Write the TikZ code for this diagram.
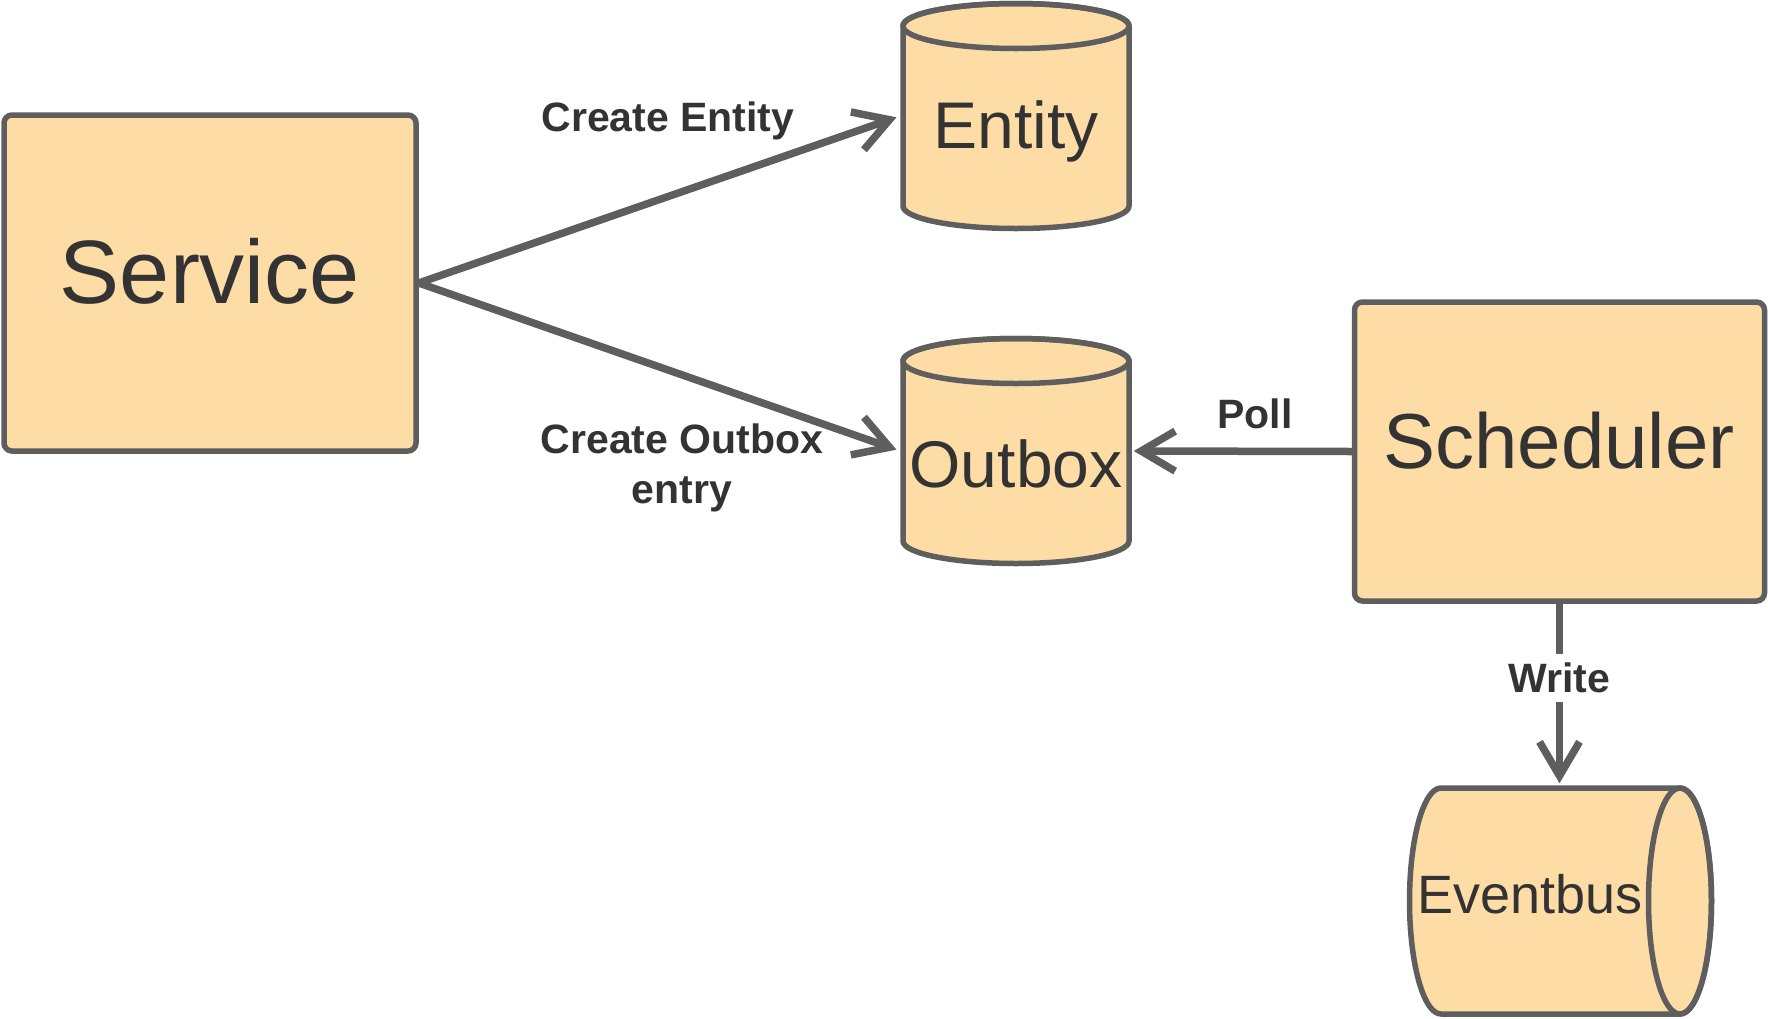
\documentclass[tikz,border=0pt]{standalone}
\usepackage{fontspec}
\setmainfont{Liberation Sans}
\usetikzlibrary{arrows.meta}
\definecolor{boxfill}{HTML}{FDDCA6}
\definecolor{edgecol}{HTML}{5E5E5E}
\definecolor{txtcol}{HTML}{333333}
\begin{document}
\begin{tikzpicture}[x=0.5pt,y=-0.5pt,
  line width=2.75pt,
  boxnode/.style={draw=edgecol, fill=boxfill, rounded corners=4pt, inner sep=0pt, line width=2.75pt},
  bodynode/.style={inner sep=0pt},
  cyl/.style={draw=edgecol, fill=boxfill, line width=2.75pt, line join=round},
  bigtext/.style={text=txtcol, inner sep=0pt},
  lbl/.style={text=txtcol, font=\fontsize{20.5}{25.3}\selectfont\bfseries, inner sep=0pt, align=center},
  conn/.style={draw=edgecol, line width=3.75pt, -{Straight Barb[length=17pt,width=20pt]}}
]
\useasboundingbox (0,0) rectangle (1768,1018);

% Service
\node[boxnode, minimum width=206pt, minimum height=168pt] (service) at (210,283) {};
\node[bigtext, font=\fontsize{45}{54}\selectfont] (servicetxt) at (210,271) {Service};

% Scheduler
\node[boxnode, minimum width=205pt, minimum height=149.5pt] (scheduler) at (1559.5,451.5) {};
\node[bigtext, font=\fontsize{39}{47}\selectfont] (schedtxt) at (1559,441) {Scheduler};

% Entity cylinder
\filldraw[cyl] (903,26) -- (903,206) arc[start angle=180,end angle=360,x radius=56.5pt,y radius=11.25pt] -- (1129,26) arc[start angle=0,end angle=180,x radius=56.5pt,y radius=11.25pt] -- cycle;
\draw[cyl, fill=none] (1016,26) ellipse [x radius=56.5pt, y radius=11.25pt];
\node[bodynode, minimum width=113pt, minimum height=90pt] (entity) at (1016,116) {};
\node[bigtext, font=\fontsize{33}{40}\selectfont] (entitytxt) at (1016,131) {Entity};

% Outbox cylinder
\filldraw[cyl] (903,361) -- (903,541) arc[start angle=180,end angle=360,x radius=56.5pt,y radius=11.25pt] -- (1129,361) arc[start angle=0,end angle=180,x radius=56.5pt,y radius=11.25pt] -- cycle;
\draw[cyl, fill=none] (1016,361) ellipse [x radius=56.5pt, y radius=11.25pt];
\node[bodynode, minimum width=113pt, minimum height=90pt] (outbox) at (1016,451) {};
\node[bigtext, font=\fontsize{33}{40}\selectfont] (outboxtxt) at (1016,464) {Outbox};

% Eventbus horizontal cylinder
\filldraw[cyl] (1680,788) -- (1441,788) arc[start angle=90,end angle=270,x radius=15.75pt,y radius=56.5pt] -- (1680,1014) arc[start angle=-90,end angle=90,x radius=15.75pt,y radius=56.5pt] -- cycle;
\draw[cyl, fill=none] (1680,901) ellipse [x radius=15.75pt, y radius=56.5pt];
\node[bodynode, minimum width=119.5pt, minimum height=113pt] (eventbus) at (1559.5,901) {};
\node[bigtext, font=\fontsize{27}{32}\selectfont] (eventbustxt) at (1530,894) {Eventbus};

% Connectors
\draw[conn, shorten >=2pt] (service.east) -- (entity.west);
\draw[conn, shorten >=2pt] (service.east) -- (outbox.west);
\draw[conn, shorten >=1pt] (scheduler.west) -- (outbox.east);
\draw[conn, shorten >=1pt] (scheduler.south) -- node[pos=0.41, fill=white, lbl, minimum height=24pt, inner xsep=2pt] (writelbl) {Write} (eventbus.north);

% Labels
\node[lbl] (lblentity) at (668,121) {Create Entity};
\node[lbl] (lbloutbox) at (682,468) {Create Outbox\\entry};
\node[lbl] (lblpoll) at (1255,414) {Poll};
\end{tikzpicture}
\end{document}
